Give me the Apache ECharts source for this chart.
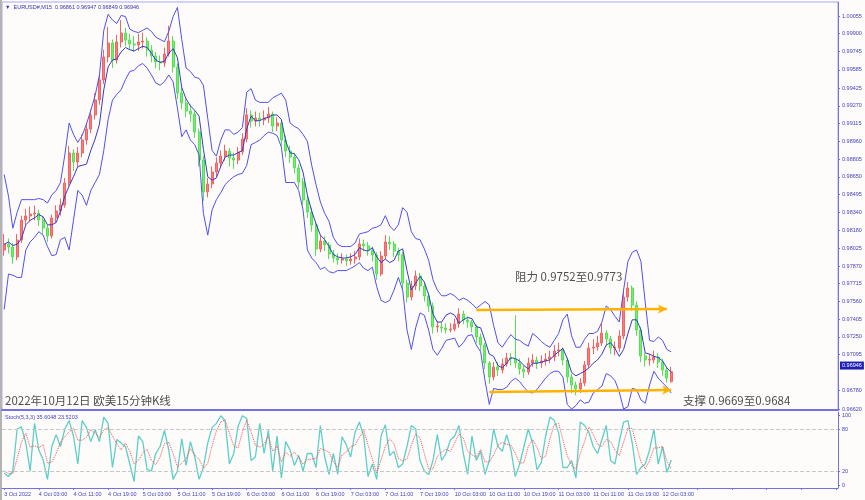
<!DOCTYPE html>
<html><head><meta charset="utf-8">
<script src="https://cdn.jsdelivr.net/npm/echarts@6/dist/echarts.min.js"></script>
<style>html,body{margin:0;padding:0;background:#fefcfb;}#c{width:865px;height:500px;}</style>
</head><body><div id="c"></div>
<script>
// ---- data (hourly resolution, EURUSD) ----
const timeTicks = ["3 Oct 2022","4 Oct 03:00","4 Oct 11:00","4 Oct 19:00","5 Oct 03:00","5 Oct 11:00","5 Oct 19:00","6 Oct 03:00","6 Oct 11:00","6 Oct 19:00","7 Oct 03:00","7 Oct 11:00","7 Oct 19:00","10 Oct 03:00","10 Oct 11:00","10 Oct 19:00","11 Oct 03:00","11 Oct 11:00","11 Oct 19:00","12 Oct 03:00"];

const opens = [
0.98010,0.98062,0.98036,0.97949,0.98097,0.98272,0.98307,0.98324,0.98333,0.98272,
0.98202,0.98132,0.98290,0.98351,0.98403,0.98595,0.98858,0.98779,0.98858,0.98971,
0.99067,0.99190,0.99321,0.99496,0.99697,0.99819,0.99670,0.99828,0.99906,0.99845,
0.99810,0.99802,0.99828,0.99836,0.99758,0.99705,0.99653,0.99644,0.99723,0.99836,
0.99609,0.99382,0.99295,0.99225,0.99198,0.99041,0.98796,0.98517,0.98587,0.98692,
0.98770,0.98831,0.98875,0.98814,0.98796,0.98866,0.98980,0.99190,0.99137,0.99163,
0.99146,0.99163,0.99198,0.99094,0.99120,0.98971,0.98875,0.98823,0.98727,0.98604,
0.98447,0.98342,0.98228,0.98019,0.98088,0.98054,0.97975,0.97940,0.97922,0.97931,
0.97914,0.97931,0.97949,0.98062,0.98045,0.98010,0.97966,0.97800,0.97957,0.98080,
0.98062,0.98001,0.97966,0.97721,0.97599,0.97695,0.97783,0.97695,0.97608,0.97520,
0.97337,0.97337,0.97328,0.97311,0.97319,0.97363,0.97450,0.97398,0.97381,0.97337,
0.97249,0.97180,0.97022,0.96900,0.96987,0.96961,0.97013,0.97066,0.97057,0.97022,
0.96970,0.96944,0.97022,0.97048,0.97022,0.97040,0.97057,0.97075,0.97127,0.97136,
0.97048,0.96900,0.96830,0.96795,0.96847,0.97005,0.97153,0.97162,0.97197,0.97284,
0.97232,0.97153,0.97153,0.97258,0.97599,0.97678,0.97529,0.97311,0.97083,0.97048,
0.97048,0.97075,0.97031,0.96961,0.96861];

const closes = [
0.98062,0.98036,0.97949,0.98097,0.98272,0.98307,0.98324,0.98333,0.98272,0.98202,
0.98132,0.98290,0.98351,0.98403,0.98595,0.98858,0.98779,0.98858,0.98971,0.99067,
0.99190,0.99321,0.99496,0.99697,0.99819,0.99670,0.99828,0.99906,0.99845,0.99810,
0.99802,0.99828,0.99836,0.99758,0.99705,0.99653,0.99644,0.99723,0.99836,0.99609,
0.99382,0.99295,0.99225,0.99198,0.99041,0.98796,0.98517,0.98587,0.98692,0.98770,
0.98831,0.98875,0.98814,0.98796,0.98866,0.98980,0.99190,0.99137,0.99163,0.99146,
0.99163,0.99198,0.99094,0.99120,0.98971,0.98875,0.98823,0.98727,0.98604,0.98447,
0.98342,0.98228,0.98019,0.98088,0.98054,0.97975,0.97940,0.97922,0.97931,0.97914,
0.97931,0.97949,0.98062,0.98045,0.98010,0.97966,0.97800,0.97957,0.98080,0.98062,
0.98001,0.97966,0.97721,0.97599,0.97695,0.97783,0.97695,0.97608,0.97520,0.97337,
0.97345,0.97328,0.97311,0.97319,0.97363,0.97450,0.97398,0.97381,0.97337,0.97249,
0.97180,0.97022,0.96900,0.96987,0.96961,0.97013,0.97066,0.97057,0.97022,0.96970,
0.96944,0.97022,0.97048,0.97022,0.97040,0.97057,0.97075,0.97127,0.97136,0.97048,
0.96900,0.96830,0.96795,0.96847,0.97005,0.97153,0.97162,0.97197,0.97284,0.97232,
0.97153,0.97160,0.97258,0.97599,0.97678,0.97529,0.97311,0.97083,0.97048,0.97055,
0.97075,0.97031,0.96961,0.96891,0.96946];

const highs = [
0.98150,0.98110,0.98070,0.98150,0.98310,0.98370,0.98390,0.98400,0.98360,0.98300,
0.98230,0.98320,0.98400,0.98460,0.98640,0.98920,0.98890,0.98910,0.99020,0.99120,
0.99240,0.99380,0.99550,0.99760,0.99960,0.99850,0.99890,1.00020,0.99950,0.99900,
0.99880,0.99900,0.99910,0.99870,0.99800,0.99740,0.99710,0.99780,0.99970,0.99880,
0.99640,0.99430,0.99330,0.99280,0.99230,0.99070,0.98830,0.98640,0.98740,0.98820,
0.98880,0.98930,0.98900,0.98860,0.98910,0.99030,0.99250,0.99230,0.99220,0.99210,
0.99230,0.99260,0.99220,0.99170,0.99150,0.99010,0.98920,0.98860,0.98760,0.98640,
0.98480,0.98380,0.98260,0.98140,0.98130,0.98080,0.98010,0.97980,0.97980,0.97970,
0.97980,0.98000,0.98110,0.98100,0.98080,0.98040,0.97990,0.98000,0.98140,0.98130,
0.98090,0.98030,0.97990,0.97750,0.97740,0.97830,0.97810,0.97720,0.97640,0.97550,
0.97390,0.97380,0.97370,0.97370,0.97410,0.97500,0.97480,0.97430,0.97400,0.97360,
0.97280,0.97200,0.97040,0.97030,0.97030,0.97060,0.97110,0.97110,0.97440,0.97060,
0.97000,0.97070,0.97100,0.97080,0.97090,0.97110,0.97130,0.97180,0.97200,0.97160,
0.97070,0.96930,0.96860,0.96890,0.97040,0.97200,0.97230,0.97260,0.97370,0.97310,
0.97260,0.97210,0.97310,0.97650,0.97730,0.97700,0.97560,0.97340,0.97110,0.97100,
0.97130,0.97110,0.97060,0.96990,0.96990];

const lows = [
0.97960,0.97980,0.97890,0.97920,0.98070,0.98230,0.98260,0.98270,0.98220,0.98150,
0.98080,0.98110,0.98250,0.98310,0.98380,0.98570,0.98700,0.98740,0.98820,0.98930,
0.99030,0.99150,0.99280,0.99460,0.99650,0.99600,0.99640,0.99780,0.99790,0.99760,
0.99740,0.99750,0.99770,0.99700,0.99650,0.99600,0.99580,0.99610,0.99700,0.99560,
0.99330,0.99240,0.99170,0.99130,0.98990,0.98740,0.98440,0.98470,0.98550,0.98650,
0.98730,0.98790,0.98740,0.98720,0.98760,0.98840,0.98950,0.99080,0.99090,0.99090,
0.99100,0.99120,0.99040,0.99050,0.98920,0.98820,0.98770,0.98680,0.98550,0.98400,
0.98290,0.98170,0.97960,0.97990,0.98000,0.97930,0.97900,0.97880,0.97890,0.97870,
0.97880,0.97890,0.97920,0.98000,0.97960,0.97910,0.97750,0.97780,0.97930,0.98010,
0.97950,0.97910,0.97670,0.97550,0.97570,0.97660,0.97650,0.97560,0.97470,0.97280,
0.97290,0.97290,0.97280,0.97290,0.97300,0.97330,0.97360,0.97330,0.97290,0.97200,
0.97130,0.96970,0.96840,0.96870,0.96910,0.96930,0.96990,0.97000,0.96980,0.96920,
0.96890,0.96920,0.96990,0.96970,0.96980,0.97000,0.97020,0.97040,0.97080,0.97000,
0.96850,0.96760,0.96740,0.96760,0.96820,0.96980,0.97100,0.97130,0.97170,0.97180,
0.97100,0.97090,0.97120,0.97230,0.97560,0.97480,0.97260,0.97030,0.96990,0.97000,
0.97020,0.96980,0.96910,0.96850,0.96849];

const bbUpper = [
0.9867,0.9848,0.9820,0.9834,0.9845,0.9845,0.9845,0.9845,0.9846,0.9845,
0.9842,0.9849,0.9853,0.9860,0.9884,0.9912,0.9902,0.9895,0.9901,0.9911,
0.9923,0.9936,0.9954,0.9993,1.0007,1.0002,0.9999,1.0006,1.0005,0.9994,
0.9992,0.9991,0.9993,0.9995,0.9992,0.9987,0.9985,0.9983,0.9992,1.0005,
1.0013,0.9985,0.9960,0.9957,0.9952,0.9951,0.9945,0.9916,0.9888,0.9883,
0.9897,0.9906,0.9906,0.9902,0.9904,0.9908,0.9939,0.9942,0.9932,0.9930,
0.9930,0.9930,0.9934,0.9936,0.9938,0.9932,0.9912,0.9909,0.9907,0.9902,
0.9896,0.9875,0.9858,0.9843,0.9833,0.9826,0.9812,0.9806,0.9804,0.9804,
0.9804,0.9807,0.9815,0.9816,0.9817,0.9820,0.9821,0.9823,0.9831,0.9822,
0.9818,0.9823,0.9838,0.9834,0.9817,0.9811,0.9810,0.9802,0.9792,0.9775,
0.9766,0.9761,0.9761,0.9763,0.9761,0.9757,0.9759,0.9757,0.9754,0.9750,
0.9753,0.9756,0.9753,0.9735,0.9720,0.9716,0.9722,0.9727,0.9723,0.9722,
0.9719,0.9717,0.9728,0.9725,0.9721,0.9718,0.9716,0.9722,0.9728,0.9740,
0.9745,0.9726,0.9716,0.9716,0.9723,0.9728,0.9728,0.9730,0.9738,0.9752,
0.9749,0.9743,0.9738,0.9766,0.9791,0.9799,0.9801,0.9791,0.9755,0.9722,
0.9721,0.9725,0.9722,0.9714,0.9712];

const bbMiddle = [
0.9806,0.9808,0.9805,0.9806,0.9811,0.9823,0.9827,0.9829,0.9832,0.9830,
0.9823,0.9823,0.9825,0.9835,0.9848,0.9857,0.9865,0.9874,0.9875,0.9876,
0.9888,0.9898,0.9911,0.9941,0.9961,0.9967,0.9968,0.9974,0.9978,0.9976,
0.9975,0.9977,0.9979,0.9978,0.9973,0.9967,0.9965,0.9966,0.9973,0.9977,
0.9969,0.9943,0.9933,0.9927,0.9923,0.9918,0.9889,0.9865,0.9862,0.9864,
0.9874,0.9882,0.9884,0.9884,0.9886,0.9888,0.9907,0.9918,0.9914,0.9914,
0.9916,0.9917,0.9919,0.9919,0.9915,0.9896,0.9886,0.9885,0.9880,0.9869,
0.9849,0.9835,0.9824,0.9814,0.9810,0.9804,0.9797,0.9795,0.9794,0.9794,
0.9795,0.9797,0.9803,0.9801,0.9800,0.9803,0.9795,0.9790,0.9793,0.9790,
0.9792,0.9800,0.9802,0.9783,0.9766,0.9772,0.9778,0.9773,0.9762,0.9745,
0.9738,0.9738,0.9744,0.9746,0.9744,0.9737,0.9740,0.9742,0.9741,0.9734,
0.9733,0.9722,0.9710,0.9708,0.9700,0.9698,0.9702,0.9707,0.9706,0.9704,
0.9700,0.9697,0.9702,0.9702,0.9703,0.9704,0.9705,0.9709,0.9712,0.9715,
0.9706,0.9694,0.9691,0.9693,0.9695,0.9698,0.9702,0.9705,0.9710,0.9718,
0.9720,0.9715,0.9708,0.9714,0.9728,0.9740,0.9740,0.9731,0.9711,0.9710,
0.9708,0.9707,0.9704,0.9698,0.9694];

const bbLower = [
0.9749,0.9780,0.9779,0.9777,0.9777,0.9801,0.9808,0.9812,0.9817,0.9814,
0.9804,0.9796,0.9797,0.9810,0.9812,0.9801,0.9827,0.9853,0.9849,0.9840,
0.9853,0.9860,0.9867,0.9888,0.9915,0.9932,0.9937,0.9941,0.9950,0.9957,
0.9958,0.9962,0.9964,0.9960,0.9954,0.9947,0.9945,0.9948,0.9954,0.9948,
0.9925,0.9900,0.9906,0.9897,0.9893,0.9884,0.9833,0.9814,0.9836,0.9845,
0.9851,0.9858,0.9862,0.9865,0.9867,0.9868,0.9875,0.9893,0.9895,0.9897,
0.9901,0.9904,0.9903,0.9901,0.9891,0.9860,0.9860,0.9860,0.9853,0.9836,
0.9801,0.9794,0.9790,0.9784,0.9786,0.9782,0.9781,0.9783,0.9783,0.9783,
0.9785,0.9787,0.9790,0.9785,0.9783,0.9786,0.9769,0.9757,0.9755,0.9757,
0.9766,0.9777,0.9766,0.9731,0.9714,0.9733,0.9746,0.9744,0.9731,0.9714,
0.9709,0.9715,0.9722,0.9723,0.9724,0.9716,0.9720,0.9726,0.9727,0.9718,
0.9712,0.9687,0.9666,0.9680,0.9679,0.9679,0.9681,0.9686,0.9689,0.9686,
0.9681,0.9677,0.9676,0.9679,0.9684,0.9689,0.9693,0.9695,0.9695,0.9690,
0.9666,0.9662,0.9665,0.9670,0.9667,0.9668,0.9676,0.9679,0.9682,0.9693,
0.9691,0.9687,0.9677,0.9662,0.9664,0.9680,0.9679,0.9670,0.9667,0.9683,
0.9695,0.9689,0.9685,0.9681,0.9676];

const stochMain = [
17,12,20,80,83,60,20,88,50,36,
8,55,72,55,80,92,70,30,92,82,
62,79,62,97,88,25,65,60,55,30,
5,70,62,22,20,45,55,78,50,8,
20,66,28,62,40,8,25,60,82,88,
99,92,30,45,84,99,95,35,40,88,
45,78,20,70,10,62,50,28,42,20,
45,45,25,85,40,15,45,15,69,57,
40,75,90,70,12,30,8,70,86,42,
48,25,30,55,85,80,35,20,15,35,
72,35,45,64,70,85,45,15,70,35,
48,15,35,80,55,48,72,50,12,30,
55,80,60,22,32,70,97,92,75,25,
25,35,10,90,85,75,55,45,65,85,
35,30,62,90,92,60,15,25,30,50,
80,30,55,18,35.6048];

const stochSignal = [
20,16,16,38,61,74,54,56,53,58,
31,33,45,61,69,76,81,64,64,68,
79,74,68,79,82,70,59,50,60,48,
30,35,46,51,35,29,40,59,61,45,
26,31,38,52,43,37,24,31,56,77,
90,93,74,56,53,76,93,76,57,54,
58,70,48,56,33,47,41,47,40,30,
36,37,38,52,50,47,33,25,43,47,
55,57,68,78,57,37,17,36,55,66,
59,38,34,37,57,73,67,45,23,23,
41,47,51,48,60,73,67,48,43,40,
51,33,33,43,57,61,58,57,45,31,
32,55,65,54,38,41,66,86,88,64,
42,28,23,45,62,83,72,58,55,65,
62,50,42,61,81,81,56,33,23,35,
53,53,55,34,23.5203];

const priceTicks = [1.00055,0.99900,0.99745,0.99585,0.99425,0.99270,0.99115,0.98960,0.98805,0.98650,0.98495,0.98340,0.98180,0.98025,0.97870,0.97715,0.97560,0.97405,0.97250,0.97095,0.96780,0.96620];
const stochTicks = [0,20,80,100];
const stochLevels = [20,80];
const lastPrice = 0.96946;
const resistanceLine = [[109,0.97486],[153,0.97494]];
const supportLine = [[112,0.96769],[154,0.96786]];
const slotCount = 193;

// ---- chart ----
const categories = Array.from({length: slotCount}, (_, i) => String(i));
const candles = opens.map((o, i) => [o, closes[i], lows[i], highs[i]]);
const axisBlue = '#7272e4';
const textBlue = '#3f3fc0';
const bandBlue = '#5050f2';

const chart = echarts.init(document.getElementById('c'), null, {renderer: 'canvas'});
chart.setOption({
  animation: false,
  backgroundColor: '#fefcfb',
  grid: [
    {left: 2, right: 27, top: 2, height: 408, show: true, borderColor: '#a8a8f0', borderWidth: 1, backgroundColor: 'transparent'},
    {left: 2, right: 27, top: 412, height: 76}
  ],
  xAxis: [
    {type: 'category', gridIndex: 0, data: categories, boundaryGap: true,
     axisLine: {show: true, onZero: false, lineStyle: {color: axisBlue, width: 2}},
     axisTick: {show: false}, axisLabel: {show: false}, splitLine: {show: false}},
    {type: 'category', gridIndex: 1, data: categories, boundaryGap: true,
     axisLine: {show: true, onZero: false, lineStyle: {color: axisBlue, width: 1}},
     axisTick: {show: true, interval: 7, alignWithLabel: true, length: 2, lineStyle: {color: axisBlue}},
     axisLabel: {show: true, interval: 7, align: 'left', margin: 3, fontSize: 5.5, color: textBlue,
       fontFamily: 'Liberation Sans',
       formatter: (v, idx) => (idx % 8 === 0 && timeTicks[idx / 8]) ? timeTicks[idx / 8] : ''},
     splitLine: {show: false}}
  ],
  yAxis: [
    {type: 'value', gridIndex: 0, position: 'right', min: 0.966115, max: 1.001774, scale: true,
     axisLine: {show: true, lineStyle: {color: axisBlue, width: 1}},
     axisTick: {show: true, customValues: priceTicks, length: 2, lineStyle: {color: axisBlue}},
     axisLabel: {show: true, customValues: priceTicks, margin: 4, fontSize: 5.5, color: textBlue,
       fontFamily: 'Liberation Sans', formatter: v => v.toFixed(5)},
     splitLine: {show: false}},
    {type: 'value', gridIndex: 1, position: 'right', min: -4.3, max: 104.3,
     axisLine: {show: true, lineStyle: {color: axisBlue, width: 1}},
     axisTick: {show: true, customValues: stochTicks, length: 2, lineStyle: {color: axisBlue}},
     axisLabel: {show: true, customValues: stochTicks, margin: 4, fontSize: 5.5, color: textBlue,
       fontFamily: 'Liberation Sans'},
     splitLine: {show: false}}
  ],
  series: [
    {type: 'candlestick', name: 'EURUSD', xAxisIndex: 0, yAxisIndex: 0, data: candles, barWidth: 2.5,
     itemStyle: {color: '#ff7a7a', color0: '#6ff06f', borderColor: '#f26464', borderColor0: '#55e055', borderWidth: 1},
     markLine: {silent: true, symbol: ['none', 'arrow'], symbolSize: [7, 9],
       lineStyle: {color: '#ffb300', width: 2.5, type: 'solid'}, label: {show: false},
       data: [
         [{coord: resistanceLine[0]}, {coord: resistanceLine[1]}],
         [{coord: supportLine[0]}, {coord: supportLine[1]}]
       ]}},
    {type: 'line', name: 'BB upper', xAxisIndex: 0, yAxisIndex: 0, data: bbUpper, symbol: 'none',
     lineStyle: {color: bandBlue, width: 1}},
    {type: 'line', name: 'BB middle', xAxisIndex: 0, yAxisIndex: 0, data: bbMiddle, symbol: 'none',
     lineStyle: {color: '#3838cc', width: 1}},
    {type: 'line', name: 'BB lower', xAxisIndex: 0, yAxisIndex: 0, data: bbLower, symbol: 'none',
     lineStyle: {color: bandBlue, width: 1},
     markLine: {silent: true, symbol: ['none', 'none'],
       lineStyle: {color: 'rgba(0,0,0,0)', width: 1, type: 'solid'},
       data: [{yAxis: lastPrice}],
       label: {show: true, position: 'end', distance: 2, formatter: lastPrice.toFixed(5),
         backgroundColor: '#1e1eb8', color: '#ffffff', fontSize: 5.5, padding: [1, 2],
         fontFamily: 'Liberation Sans'}}},
    {type: 'line', name: 'Stoch main', xAxisIndex: 1, yAxisIndex: 1, data: stochMain, symbol: 'none',
     lineStyle: {color: '#5ccfc6', width: 1.3},
     markLine: {silent: true, symbol: 'none', label: {show: false},
       lineStyle: {color: '#c8c8c8', type: 'dashed', width: 1},
       data: stochLevels.map(v => ({yAxis: v}))}},
    {type: 'line', name: 'Stoch signal', xAxisIndex: 1, yAxisIndex: 1, data: stochSignal, symbol: 'none',
     lineStyle: {color: '#ff4d4d', width: 1, type: 'dotted'}}
  ],
  graphic: [
    {type: 'rect', left: 0, top: 0, shape: {width: 2, height: 500}, style: {fill: '#b4b4b4'}, silent: true},
    {type: 'text', left: 5, top: 4, silent: true,
     style: {text: '\u25BC  EURUSD#,M15  0.96861 0.96947 0.96849 0.96946', fontSize: 5.5, fill: '#3434b0', fontFamily: 'Liberation Sans'}},
    {type: 'text', left: 5, top: 414, silent: true,
     style: {text: 'Stoch(5,3,3) 35.6048 23.5203', fontSize: 5.5, fill: '#4646c8', fontFamily: 'Liberation Sans'}},
    {type: 'text', left: 5, top: 395, silent: true,
     style: {text: '2022年10月12日 欧美15分钟K线', fontSize: 11.5, fill: '#4e4e4e', fontFamily: 'Noto Sans CJK SC'}},
    {type: 'text', left: 515, top: 271, silent: true,
     style: {text: '阻力 0.9752至0.9773', fontSize: 11.5, fill: '#4e4e4e', fontFamily: 'Noto Sans CJK SC'}},
    {type: 'text', left: 683, top: 395, silent: true,
     style: {text: '支撑 0.9669至0.9684', fontSize: 11.5, fill: '#4e4e4e', fontFamily: 'Noto Sans CJK SC'}}
  ]
});
</script>
</body></html>
